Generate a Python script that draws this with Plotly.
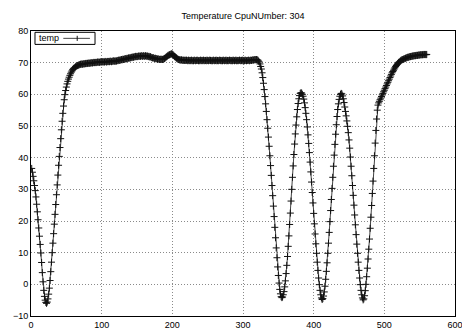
import plotly.graph_objects as go

# ---- data (sample index starts at 1, one reading per sample) ----
title_text = "Temperature CpuNUmber: 304"
series_name = "temp"
x_ticks = [0, 100, 200, 300, 400, 500, 600]
y_ticks = [-10, 0, 10, 20, 30, 40, 50, 60, 70, 80]

# samples 1-70: first dip and recovery
temp_dip1 = [
    36.6, 35.4, 34.1, 32.7, 31.2, 29.6, 27.6, 25.3, 22.9, 20.4,
    17.8, 15.2, 12.6, 9.9, 6.9, 3.7, 0.8, -1.9, -3.8, -5.0,
    -5.7, -6.0, -5.6, -4.6, -3.1, -1.2, 1.2, 4.0, 7.0, 10.0,
    13.0, 16.0, 19.0, 22.1, 25.2, 28.3, 31.4, 34.5, 37.6, 40.4,
    43.2, 46.0, 48.8, 51.5, 54.0, 56.3, 58.3, 59.9, 61.2, 62.3,
    63.3, 64.1, 64.8, 65.4, 66.0, 66.5, 67.0, 67.4, 67.8, 68.1,
    68.3, 68.5, 68.7, 68.9, 69.0, 69.1, 69.2, 69.3, 69.4, 69.5,
]

# samples 71-320: plateau
temp_plateau = [
    69.5, 69.6, 69.5, 69.6, 69.7, 69.6, 69.7, 69.8, 69.7, 69.8,
    69.8, 69.9, 69.8, 69.9, 69.9, 70.0, 69.9, 70.0, 70.1, 70.0,
    70.1, 70.0, 70.1, 70.2, 70.1, 70.2, 70.1, 70.2, 70.3, 70.2,
    70.3, 70.2, 70.3, 70.2, 70.4, 70.3, 70.2, 70.4, 70.3, 70.4,
    70.3, 70.5, 70.4, 70.3, 70.5, 70.4, 70.6, 70.5, 70.4, 70.6,
    70.5, 70.7, 70.6, 70.8, 70.7, 70.9, 70.8, 71.0, 70.9, 71.1,
    71.0, 71.2, 71.1, 71.3, 71.2, 71.4, 71.3, 71.5, 71.4, 71.6,
    71.5, 71.7, 71.6, 71.8, 71.7, 71.9, 71.8, 72.0, 71.9, 72.0,
    71.9, 72.1, 72.0, 72.1, 72.0, 72.2, 72.1, 72.0, 72.2, 72.1,
    72.0, 72.2, 72.1, 72.0, 72.1, 71.9, 72.0, 71.8, 71.9, 71.7,
    71.6, 71.5, 71.6, 71.4, 71.3, 71.4, 71.2, 71.3, 71.1, 71.2,
    71.1, 71.0, 71.1, 71.0, 71.1, 71.0, 71.1, 71.2, 71.3, 71.5,
    71.7, 71.9, 72.1, 72.3, 72.4, 72.5, 72.6, 72.7, 72.8, 72.7,
    72.5, 72.3, 72.0, 71.8, 71.6, 71.4, 71.2, 71.1, 71.0, 70.9,
    70.9, 70.8, 70.9, 70.8, 70.7, 70.8, 70.7, 70.8, 70.7, 70.8,
    70.7, 70.6, 70.8, 70.7, 70.6, 70.7, 70.8, 70.6, 70.7, 70.6,
    70.8, 70.7, 70.6, 70.7, 70.8, 70.7, 70.6, 70.7, 70.6, 70.8,
    70.7, 70.6, 70.7, 70.8, 70.6, 70.7, 70.7, 70.6, 70.8, 70.7,
    70.6, 70.7, 70.8, 70.7, 70.6, 70.7, 70.6, 70.8, 70.7, 70.6,
    70.7, 70.8, 70.6, 70.7, 70.6, 70.7, 70.8, 70.7, 70.6, 70.7,
    70.6, 70.8, 70.7, 70.6, 70.7, 70.8, 70.6, 70.7, 70.6, 70.7,
    70.8, 70.7, 70.6, 70.7, 70.6, 70.8, 70.7, 70.6, 70.7, 70.8,
    70.6, 70.7, 70.6, 70.7, 70.8, 70.7, 70.6, 70.7, 70.8, 70.6,
    70.7, 70.6, 70.8, 70.7, 70.6, 70.7, 70.7, 70.8, 70.6, 70.7,
    70.8, 70.7, 70.8, 70.9, 70.8, 70.9, 71.0, 70.9, 71.0, 70.9,
]

# samples 321-470: oscillation
temp_swings = [
    70.8, 70.5, 70.2, 69.6, 68.8, 68.0, 66.8, 65.3, 63.5, 61.5,
    59.3, 57.0, 54.6, 52.0, 49.3, 46.5, 43.6, 40.6, 37.5, 34.4,
    31.2, 28.0, 24.7, 21.4, 18.0, 14.7, 11.5, 8.4, 5.5, 2.8,
    0.4, -1.6, -3.0, -3.9, -4.2, -4.0, -3.3, -2.3, -0.8, 1.1,
    3.4, 6.0, 8.8, 12.0, 15.3, 18.9, 22.5, 26.3, 30.0, 33.8,
    37.4, 41.0, 44.3, 47.5, 50.3, 52.9, 55.2, 57.1, 58.6, 59.6,
    60.3, 60.5, 60.4, 60.0, 59.4, 58.5, 57.3, 55.8, 54.0, 52.0,
    49.7, 47.2, 44.5, 41.6, 38.6, 35.5, 32.3, 29.0, 25.7, 22.4,
    19.1, 15.9, 12.8, 9.8, 7.0, 4.4, 2.0, -0.1, -1.9, -3.3,
    -4.3, -4.8, -4.5, -3.7, -2.4, -0.6, 1.6, 4.1, 6.8, 9.8,
    13.0, 16.4, 19.8, 23.3, 26.8, 30.3, 33.8, 37.3, 40.8, 44.2,
    47.4, 50.4, 53.0, 55.2, 57.0, 58.4, 59.4, 60.0, 60.3, 60.1,
    59.5, 58.6, 57.4, 56.0, 54.6, 53.2, 51.6, 49.9, 47.9, 45.6,
    43.0, 40.2, 37.3, 34.3, 31.2, 28.1, 25.0, 21.9, 18.8, 15.7,
    12.7, 9.8, 7.0, 4.4, 2.0, -0.1, -1.9, -3.3, -4.3, -4.9,
]

# samples 471-560: final recovery
temp_recovery = [
    -4.6, -3.6, -2.0, 0.0, 2.4, 5.1, 8.0, 11.1, 14.3, 17.7,
    21.2, 24.9, 28.7, 32.6, 36.6, 40.6, 44.6, 48.6, 52.2, 55.0,
    56.6, 57.3, 57.8, 58.3, 58.8, 59.3, 59.8, 60.3, 60.8, 61.3,
    61.8, 62.3, 62.8, 63.3, 63.8, 64.3, 64.8, 65.3, 65.8, 66.3,
    66.8, 67.2, 67.6, 68.0, 68.4, 68.8, 69.1, 69.4, 69.7, 70.0,
    70.2, 70.4, 70.6, 70.8, 70.9, 71.0, 71.1, 71.2, 71.3, 71.4,
    71.5, 71.6, 71.7, 71.7, 71.8, 71.9, 71.9, 72.0, 72.0, 72.1,
    72.1, 72.2, 72.2, 72.2, 72.3, 72.3, 72.3, 72.4, 72.4, 72.4,
    72.5, 72.5, 72.5, 72.5, 72.6, 72.5, 72.6, 72.6, 72.5, 72.6,
]

temp = temp_dip1 + temp_plateau + temp_swings + temp_recovery
samples = list(range(1, len(temp) + 1))

FONT = "Liberation Sans, Arial, Helvetica, sans-serif"

fig = go.Figure()
fig.add_trace(go.Scatter(
    x=samples, y=temp, mode="lines+markers", name=series_name,
    line=dict(color="#444444", width=1),
    marker=dict(symbol="cross-thin", size=5, line=dict(width=1, color="#111111")),
    showlegend=False, hoverinfo="skip",
))

axis_common = dict(
    showgrid=True, gridcolor="#8a8a8a", griddash="1px,2px", gridwidth=1,
    showline=True, linecolor="black", linewidth=1, mirror=True,
    zeroline=False, ticks="", ticklabeloverflow="allow",
    tickfont=dict(family=FONT, size=9, color="black"),
)
fig.update_xaxes(range=[0, 600], tickvals=x_ticks, **axis_common)
fig.update_yaxes(range=[-10, 80], tickvals=y_ticks, **axis_common)

# gnuplot-style key: label on the left, sample line with marker on the right
lx0, lx1, ly0, ly1 = 0.0094, 0.151, 0.953, 0.9954
ly = (ly0 + ly1) / 2
sx0, sx1, sxm = 0.0762, 0.139, 0.109
shapes = [
    dict(type="rect", xref="paper", yref="paper", x0=lx0, x1=lx1, y0=ly0, y1=ly1,
         line=dict(color="black", width=1), fillcolor="white", layer="above"),
    dict(type="line", xref="paper", yref="paper", x0=sx0, x1=sx1, y0=ly, y1=ly,
         line=dict(color="#444444", width=1), layer="above"),
    dict(type="line", xref="paper", yref="paper", x0=sxm, x1=sxm, y0=ly - 0.009, y1=ly + 0.009,
         line=dict(color="#111111", width=1), layer="above"),
]
fig.update_layout(
    width=462, height=329,
    margin=dict(l=31, r=7, t=31, b=13, autoexpand=False),
    paper_bgcolor="white", plot_bgcolor="white",
    title=dict(text=title_text, x=0.5, xref="paper", xanchor="center",
               y=1 - 16 / 329, yref="container", yanchor="middle",
               font=dict(family=FONT, size=9, color="black")),
    shapes=shapes,
    annotations=[dict(text=series_name, xref="paper", yref="paper", x=0.0149, y=ly,
                      xanchor="left", yanchor="middle", showarrow=False,
                      font=dict(family=FONT, size=9, color="black"))],
)

fig.write_html("out.html", config={"displayModeBar": False, "staticPlot": True},
               post_script="document.body.style.margin='0';")
